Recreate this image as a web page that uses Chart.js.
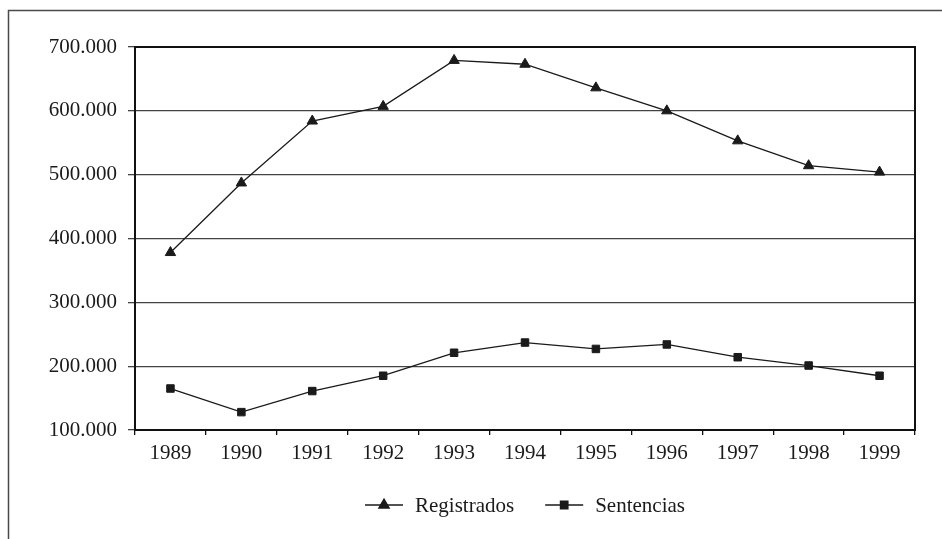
<!DOCTYPE html>
<html>
<head>
<meta charset="utf-8">
<script src="https://cdn.jsdelivr.net/npm/chart.js@4/dist/chart.umd.min.js"></script>
<style>
  html, body { margin: 0; padding: 0; background: #fff; }
  #wrap { width: 942px; height: 539px; position: relative; }
</style>
</head>
<body>
<div id="wrap"><canvas id="c" width="942" height="539"></canvas></div>
<script>
const years = ['1989','1990','1991','1992','1993','1994','1995','1996','1997','1998','1999'];
const registrados = [378000, 487000, 584000, 607000, 679000, 673000, 636000, 600000, 553000, 514000, 504000];
const sentencias = [165000, 128000, 161000, 185000, 221000, 237000, 227000, 234000, 214000, 201000, 185000];
const seriesNames = ['Registrados', 'Sentencias'];
const yMin = 100000, yMax = 700000, yStep = 100000;

const FONT = "'Liberation Serif', 'DejaVu Serif', serif";
const INK = '#1a1a1a';

function fmt(v) {
  return String(Math.round(v)).replace(/\B(?=(\d{3})+(?!\d))/g, '.');
}

const framePlugin = {
  id: 'frame',
  beforeDraw(chart) {
    const ctx = chart.ctx;
    ctx.save();
    ctx.strokeStyle = '#4a4a4a';
    ctx.lineWidth = 1.5;
    ctx.beginPath();
    ctx.moveTo(8.5, 539);
    ctx.lineTo(8.5, 10.5);
    ctx.lineTo(942, 10.5);
    ctx.stroke();
    ctx.restore();
  },
  afterDatasetsDraw(chart) {
    const a = chart.chartArea, ctx = chart.ctx;
    ctx.save();
    ctx.strokeStyle = '#111';
    ctx.lineWidth = 2;
    ctx.strokeRect(a.left, a.top, a.right - a.left, a.bottom - a.top);
    ctx.restore();
  }
};

const legendPlugin = {
  id: 'lineLegend',
  afterDraw(chart) {
    const ctx = chart.ctx, a = chart.chartArea;
    ctx.save();
    ctx.font = '21px ' + FONT;
    const lineW = 38, gapText = 12, gapItem = 31;
    const items = chart.data.datasets.map(ds => ({ ds, w: ctx.measureText(ds.label).width }));
    let total = 0;
    items.forEach((it, i) => { total += lineW + gapText + it.w + (i < items.length - 1 ? gapItem : 0); });
    let x = (a.left + a.right) / 2 - total / 2;
    const y = 505;
    items.forEach(it => {
      ctx.strokeStyle = INK;
      ctx.lineWidth = 1.3;
      ctx.beginPath();
      ctx.moveTo(x, y); ctx.lineTo(x + lineW, y); ctx.stroke();
      ctx.fillStyle = INK;
      Chart.helpers.drawPoint(ctx, {
        pointStyle: it.ds.pointStyle, radius: it.ds.pointRadius, borderWidth: 1, rotation: 0
      }, x + lineW / 2, y);
      ctx.fillStyle = INK;
      ctx.textBaseline = 'middle';
      ctx.textAlign = 'left';
      ctx.fillText(it.ds.label, x + lineW + gapText, y + 1);
      x += lineW + gapText + it.w + gapItem;
    });
    ctx.restore();
  }
};

new Chart(document.getElementById('c'), {
  type: 'line',
  data: {
    labels: years,
    datasets: [
      {
        label: seriesNames[0], data: registrados,
        borderColor: INK, borderWidth: 1.3, backgroundColor: INK,
        pointStyle: 'triangle', pointRadius: 6, pointBorderWidth: 1,
        pointBackgroundColor: INK, pointBorderColor: INK, tension: 0, fill: false
      },
      {
        label: seriesNames[1], data: sentencias,
        borderColor: INK, borderWidth: 1.3, backgroundColor: INK,
        pointStyle: 'rect', pointRadius: 5.3, pointBorderWidth: 1,
        pointBackgroundColor: INK, pointBorderColor: INK, tension: 0, fill: false
      }
    ]
  },
  options: {
    responsive: false,
    animation: false,
    devicePixelRatio: 1,
    layout: { padding: { left: 0, top: 47, right: 27, bottom: 69 } },
    plugins: { legend: { display: false }, tooltip: { enabled: false }, title: { display: false } },
    scales: {
      x: {
        type: 'category',
        offset: true,
        afterFit(s) { s.height = 40; },
        grid: { offset: true, drawOnChartArea: false, drawTicks: true, tickLength: 5, color: '#111', lineWidth: 1.3 },
        border: { display: true, color: '#111', width: 2 },
        ticks: { color: INK, font: { family: FONT, size: 21 }, padding: 6, maxRotation: 0, autoSkip: false }
      },
      y: {
        min: yMin, max: yMax,
        afterFit(s) { s.width = 135; },
        grid: { color: '#444', lineWidth: 1.3, tickLength: 7, drawTicks: true },
        border: { display: true, color: '#111', width: 2 },
        ticks: { stepSize: yStep, color: INK, font: { family: FONT, size: 21 }, padding: 11, callback: v => fmt(v) }
      }
    }
  },
  plugins: [framePlugin, legendPlugin]
});
</script>
</body>
</html>
